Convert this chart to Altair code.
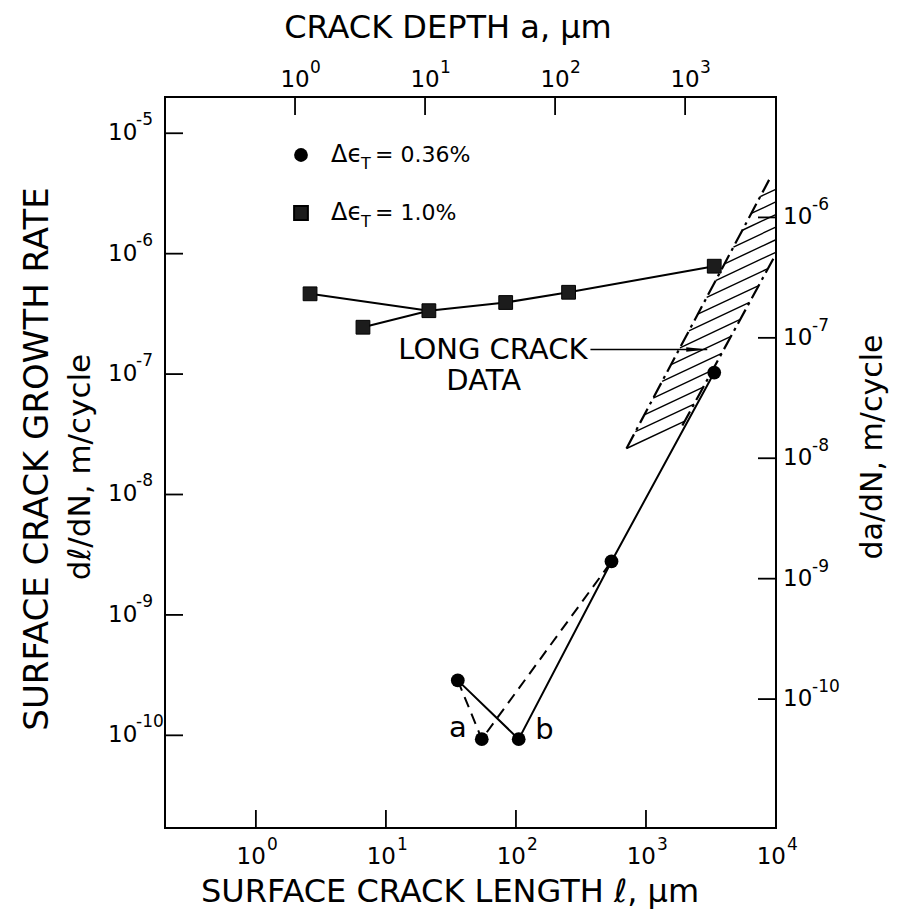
import altair as alt
import pandas as pd
import numpy as np

# ---------------- data ----------------
# delta eps_T = 1.0 %  (squares)
sq_len = [2.61, 6.66, 21.4, 83.4, 254.0, 3350.0]
sq_rate = [4.64e-7, 2.45e-7, 3.36e-7, 3.93e-7, 4.78e-7, 7.87e-7]
sq_paths = [[0, 2], [1, 2, 3, 4, 5]]

# delta eps_T = 0.36 %  (circles)
ci_len = [35.7, 54.6, 105.0, 543.0, 3350.0]
ci_rate = [2.86e-10, 9.3e-11, 9.3e-11, 2.78e-9, 1.03e-7]
ci_solid = [0, 2, 3, 4]     # path "b"
ci_dashed = [0, 1, 3]       # path "a"

# long crack data band (edges, hatch)
band_left_len = [708.0, 8850.0]
band_left_rate = [2.41e-8, 4.1e-6]
band_right_len = [1905.0, 12000.0]
band_right_rate = [3.74e-8, 1.43e-6]
hatch_count = 16
hatch_slope = 0.508

arrow_len = [374.0, 2960.0]
arrow_rate = [1.6e-7, 1.6e-7]
long_crack_text = ["LONG CRACK", "DATA"]
long_crack_len = [374.0, 56.5]
long_crack_rate = [1.6e-7, 8.8e-8]

ab_text = ["a", "b"]
ab_len = [35.7, 166.0]
ab_rate = [1.14e-10, 1.10e-10]

# axes
x_ticks = [1, 10, 100, 1000]
x_label_vals = [1, 10, 100, 1000, 10000]
x_label_exp = ["0", "1", "2", "3", "4"]
y_ticks = [1e-5, 1e-6, 1e-7, 1e-8, 1e-9, 1e-10]
y_label_exp = ["-5", "-6", "-7", "-8", "-9", "-10"]
a_ticks = [1, 10, 100, 1000]
a_label_exp = ["0", "1", "2", "3"]
r_ticks = [1e-6, 1e-7, 1e-8, 1e-9, 1e-10]
r_label_exp = ["-6", "-7", "-8", "-9", "-10"]
l_per_a = 2.0   # surface length = 2 x depth

legend_labels = ["= 0.36%", "= 1.0%"]

X_DOMAIN = [0.2, 10000]
Y_DOMAIN = [1.7e-11, 2.0e-5]
W, H = 611, 731
FONT = "DejaVu Sans"

xs = alt.Scale(type="log", domain=X_DOMAIN, nice=False)
ys = alt.Scale(type="log", domain=Y_DOMAIN, nice=False)


def X(f="l"):
    return alt.X(f"{f}:Q", scale=xs, axis=None)


def Y(f="v"):
    return alt.Y(f"{f}:Q", scale=ys, axis=None)


# ---------------- tables ----------------
sq_lines = pd.DataFrame(
    [dict(l=sq_len[i], v=sq_rate[i], path=p, o=k) for p, idx in enumerate(sq_paths) for k, i in enumerate(idx)]
)
ci_sol = pd.DataFrame([dict(l=ci_len[i], v=ci_rate[i], o=k) for k, i in enumerate(ci_solid)])
ci_das = pd.DataFrame([dict(l=ci_len[i], v=ci_rate[i], o=k) for k, i in enumerate(ci_dashed)])
sq_pts = pd.DataFrame(dict(l=sq_len, v=sq_rate))
ci_pts = pd.DataFrame(dict(l=ci_len, v=ci_rate))

edges = pd.DataFrame(dict(
    l=band_left_len + band_right_len,
    v=band_left_rate + band_right_rate,
    e=["L", "L", "R", "R"],
))

L0 = np.log10([band_left_len[0], band_left_rate[0]])
L1 = np.log10([band_left_len[1], band_left_rate[1]])
R0 = np.log10([band_right_len[0], band_right_rate[0]])
R1 = np.log10([band_right_len[1], band_right_rate[1]])
d = np.array([1.0, hatch_slope])
rows = []
for i in range(hatch_count):
    P = L0 + (i / hatch_count) * (L1 - L0)
    A = np.array([d, -(R1 - R0)]).T
    u, s = np.linalg.solve(A, R0 - P)
    Q = P + u * d
    rows.append(dict(l=10 ** P[0], v=10 ** P[1], h=i, o=0))
    rows.append(dict(l=10 ** Q[0], v=10 ** Q[1], h=i, o=1))
hatch = pd.DataFrame(rows)

arrow = pd.DataFrame(dict(l=arrow_len, v=arrow_rate))
arrow_tip = pd.DataFrame(dict(l=[arrow_len[1]], v=[arrow_rate[1]]))
lc = pd.DataFrame(dict(l=long_crack_len, v=long_crack_rate, t=long_crack_text))
ab = pd.DataFrame(dict(l=ab_len, v=ab_rate, t=ab_text))

xt = pd.DataFrame(dict(l=x_ticks))
xl = pd.DataFrame(dict(l=x_label_vals, e=x_label_exp, b=["10"] * len(x_label_vals)))
yt = pd.DataFrame(dict(v=y_ticks, e=y_label_exp, b=["10"] * len(y_ticks)))
at = pd.DataFrame(dict(l=[a * l_per_a for a in a_ticks], e=a_label_exp, b=["10"] * len(a_ticks)))
rt = pd.DataFrame(dict(v=[r * l_per_a for r in r_ticks], e=r_label_exp, b=["10"] * len(r_ticks)))

TXT = dict(font=FONT, color="black")

layers = []
# hatch + edges
layers.append(alt.Chart(hatch).mark_line(color="black", strokeWidth=1.4, clip=True).encode(
    x=X(), y=Y(), detail="h:N", order="o:Q"))
layers.append(alt.Chart(edges).mark_line(color="black", strokeWidth=2.2, clip=True,
                                         strokeDash=[16, 5, 3, 5]).encode(x=X(), y=Y(), detail="e:N"))
# data lines
layers.append(alt.Chart(sq_lines).mark_line(color="black", strokeWidth=2).encode(
    x=X(), y=Y(), detail="path:N", order="o:Q"))
layers.append(alt.Chart(ci_sol).mark_line(color="black", strokeWidth=2).encode(x=X(), y=Y(), order="o:Q"))
layers.append(alt.Chart(ci_das).mark_line(color="black", strokeWidth=2, strokeDash=[11, 7]).encode(
    x=X(), y=Y(), order="o:Q"))
# markers
layers.append(alt.Chart(sq_pts).mark_point(shape="square", filled=True, size=190, color="#1c1c1c",
                                           stroke="black", strokeWidth=1, opacity=1).encode(x=X(), y=Y()))
layers.append(alt.Chart(ci_pts).mark_point(shape="circle", filled=True, size=190, color="black",
                                           opacity=1).encode(x=X(), y=Y()))
# arrow
layers.append(alt.Chart(arrow).mark_line(color="black", strokeWidth=1.6).encode(x=X(), y=Y()))
layers.append(alt.Chart(arrow_tip).mark_point(shape="M-2,-0.22L0,0L-2,0.22Z", filled=True, size=441,
                                              color="black", opacity=1).encode(x=X(), y=Y()))
# annotations
layers.append(alt.Chart(lc.iloc[[0]]).mark_text(align="right", baseline="middle", dx=-3, fontSize=29, **TXT)
              .encode(x=X(), y=Y(), text="t:N"))
layers.append(alt.Chart(lc.iloc[[1]]).mark_text(align="center", baseline="middle", fontSize=29, **TXT)
              .encode(x=X(), y=Y(), text="t:N"))
layers.append(alt.Chart(ab).mark_text(align="center", baseline="middle", fontSize=29, **TXT)
              .encode(x=X(), y=Y(), text="t:N"))

# ticks (inward)
layers.append(alt.Chart(xt).mark_rule(color="black", strokeWidth=1.8).encode(
    x=X(), y=alt.value(H), y2=alt.value(H - 18)))
layers.append(alt.Chart(at).mark_rule(color="black", strokeWidth=1.8).encode(
    x=X(), y=alt.value(0), y2=alt.value(18)))
layers.append(alt.Chart(yt).mark_rule(color="black", strokeWidth=1.8).encode(
    y=Y(), x=alt.value(0), x2=alt.value(18)))
layers.append(alt.Chart(rt).mark_rule(color="black", strokeWidth=1.8).encode(
    y=Y(), x=alt.value(W - 18), x2=alt.value(W)))

# tick labels
layers.append(alt.Chart(xl).mark_text(align="right", baseline="middle", dx=10, fontSize=23, **TXT)
              .encode(x=X(), y=alt.value(H + 29), text="b:N"))
layers.append(alt.Chart(xl).mark_text(align="left", baseline="middle", dx=11, fontSize=17, **TXT)
              .encode(x=X(), y=alt.value(H + 17), text="e:N"))
layers.append(alt.Chart(at).mark_text(align="center", baseline="middle", fontSize=23, **TXT)
              .encode(x=X(), y=alt.value(-17), text="b:N"))
layers.append(alt.Chart(at).mark_text(align="left", baseline="middle", dx=15, fontSize=17, **TXT)
              .encode(x=X(), y=alt.value(-29), text="e:N"))
layers.append(alt.Chart(yt).mark_text(align="left", baseline="middle", fontSize=23, **TXT)
              .encode(y=Y(), x=alt.value(-57), text="b:N"))
layers.append(alt.Chart(yt).mark_text(align="left", baseline="middle", dy=-13, fontSize=17, **TXT)
              .encode(y=Y(), x=alt.value(-29), text="e:N"))
layers.append(alt.Chart(rt).mark_text(align="left", baseline="middle", fontSize=23, **TXT)
              .encode(y=Y(), x=alt.value(W + 7), text="b:N"))
layers.append(alt.Chart(rt).mark_text(align="left", baseline="middle", dy=-12, fontSize=17, **TXT)
              .encode(y=Y(), x=alt.value(W + 36), text="e:N"))


def label(text, x, y, size, angle=0, align="center"):
    return alt.Chart(pd.DataFrame(dict(t=[text]))).mark_text(
        align=align, baseline="middle", fontSize=size, angle=angle, **TXT
    ).encode(x=alt.value(x), y=alt.value(y), text="t:N")


# axis titles
layers.append(label("CRACK DEPTH a, μm", 283, -69, 32))
layers.append(label("SURFACE CRACK LENGTH ℓ, μm", 285, H + 64, 32))
layers.append(label("SURFACE CRACK GROWTH RATE", -127, 362, 34, angle=270))
layers.append(label("dℓ/dN, m/cycle", -84, 370, 31, angle=270))
layers.append(label("da/dN, m/cycle", W + 97, 350, 30, angle=270))

# legend
leg_y = [58, 116]
layers.append(alt.Chart(pd.DataFrame(dict(k=[0]))).mark_point(shape="circle", filled=True, size=190,
              color="black", opacity=1).encode(x=alt.value(136), y=alt.value(leg_y[0])))
layers.append(alt.Chart(pd.DataFrame(dict(k=[0]))).mark_point(shape="square", filled=True, size=190,
              color="#1c1c1c", stroke="black", opacity=1).encode(x=alt.value(136), y=alt.value(leg_y[1])))
for yy, lab in zip(leg_y, legend_labels):
    layers.append(label("Δϵ", 166, yy, 24, align="left"))
    layers.append(label("T", 196, yy + 9, 16, align="left"))
    layers.append(label(lab, 210, yy, 22, align="left"))

chart = alt.layer(*layers).properties(
    width=W, height=H,
    padding={"left": 157, "top": 89, "right": 122, "bottom": 82},
    autosize="none",
    background="white",
).configure_view(stroke="black", strokeWidth=2)

chart.save("out.html", embed_options={"renderer": "svg", "actions": False})
